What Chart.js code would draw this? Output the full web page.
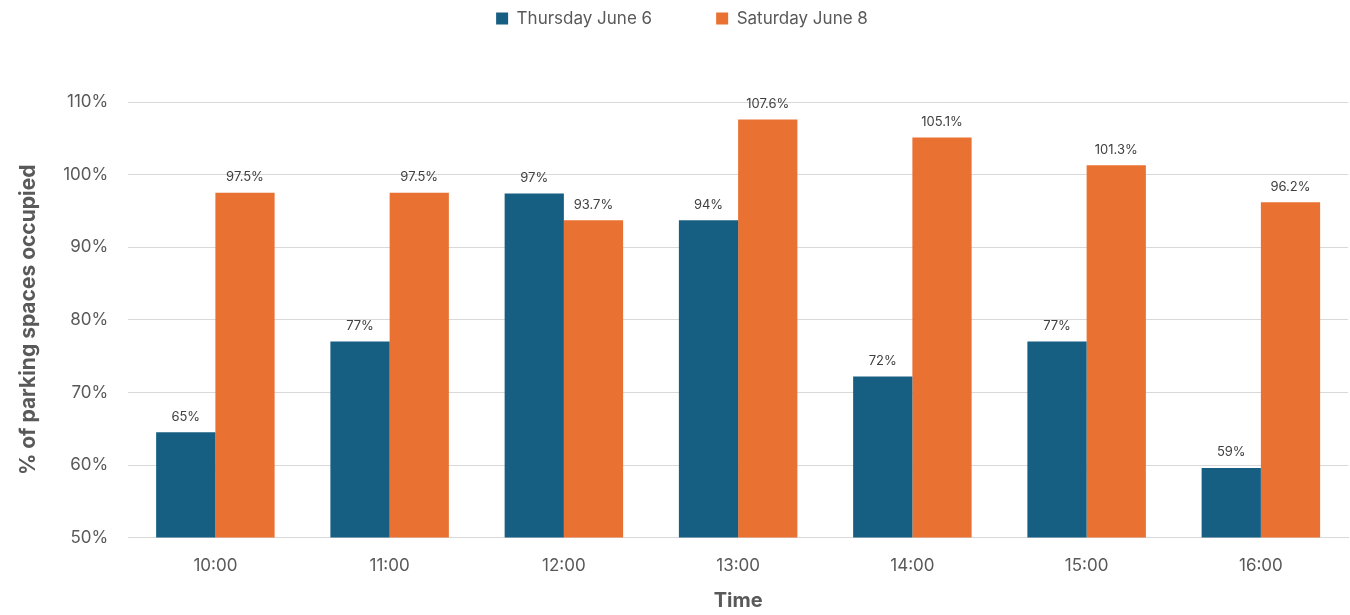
<!DOCTYPE html>
<html>
<head>
<meta charset="utf-8">
<script src="https://cdn.jsdelivr.net/npm/chart.js@4"></script>
<style>
  html, body { margin: 0; padding: 0; background: #fff; }
  #wrap { width: 1350px; height: 615px; }
</style>
</head>
<body>
<div id="wrap"><canvas id="canvas"></canvas></div>
<script>
//****DATA****//

var times = ['10:00', '11:00', '12:00', '13:00', '14:00', '15:00', '16:00'];
var thursday = [64.5, 77.0, 97.4, 93.7, 72.2, 77.0, 59.6];
var saturday = [97.5, 97.5, 93.7, 107.6, 105.1, 101.3, 96.2];
var thursdayLabels = ['65%', '77%', '97%', '94%', '72%', '77%', '59%'];
var saturdayLabels = ['97.5%', '97.5%', '93.7%', '107.6%', '105.1%', '101.3%', '96.2%'];

var FONT = 'Inter, "Liberation Sans", Arial, sans-serif';

//****PLUGINS****//

// values printed above each bar
var barLabels = {
  id: 'barLabels',
  afterDatasetsDraw: function (chart) {
    var ctx = chart.ctx;
    var texts = [thursdayLabels, saturdayLabels];
    ctx.save();
    ctx.font = '13px ' + FONT;
    ctx.fillStyle = '#404040';
    ctx.textAlign = 'center';
    ctx.textBaseline = 'bottom';
    chart.data.datasets.forEach(function (ds, i) {
      chart.getDatasetMeta(i).data.forEach(function (bar, j) {
        ctx.fillText(texts[i][j], bar.x, bar.y - 9);
      });
    });
    ctx.restore();
  }
};

// extra room under the legend
var legendGap = {
  id: 'legendGap',
  beforeInit: function (chart) {
    var fit = chart.legend.fit;
    chart.legend.fit = function () {
      fit.bind(chart.legend)();
      this.height += 65;
    };
  }
};

//****CHART****//

var ctx = document.getElementById('canvas').getContext('2d');

var chart = new Chart(ctx, {
  type: 'bar',
  data: {
    labels: times,
    datasets: [
      {
        label: 'Thursday June 6',
        data: thursday,
        backgroundColor: '#175f82',
        categoryPercentage: 0.68,
        barPercentage: 1
      },
      {
        label: 'Saturday June 8',
        data: saturday,
        backgroundColor: '#e97132',
        categoryPercentage: 0.68,
        barPercentage: 1
      }
    ]
  },
  options: {
    responsive: true,
    maintainAspectRatio: false,
    animation: false,
    layout: { padding: { left: 16, right: 2, top: -54, bottom: 0 } },
    plugins: {
      tooltip: { enabled: false },
      legend: {
        position: 'top',
        labels: {
          boxWidth: 12,
          boxHeight: 12,
          padding: 64,
          color: '#595959',
          font: { family: FONT, size: 17 }
        }
      }
    },
    scales: {
      x: {
        grid: { display: false },
        border: { color: '#d9d9d9' },
        ticks: {
          color: '#595959',
          padding: 10,
          font: { family: FONT, size: 17 }
        },
        title: {
          display: true,
          text: 'Time',
          color: '#595959',
          padding: { top: 3, bottom: 2 },
          font: { family: FONT, size: 20, weight: 'bold' }
        }
      },
      y: {
        min: 50,
        max: 110,
        grid: { color: '#d9d9d9', drawTicks: false },
        border: { display: false },
        ticks: {
          stepSize: 10,
          color: '#595959',
          padding: 20,
          font: { family: FONT, size: 17 },
          callback: function (v) { return v + '%'; }
        },
        title: {
          display: true,
          text: '% of parking spaces occupied',
          color: '#595959',
          padding: { top: 0, bottom: 2 },
          font: { family: FONT, size: 21, weight: 'bold' }
        }
      }
    }
  },
  plugins: [barLabels, legendGap]
});
</script>
</body>
</html>
